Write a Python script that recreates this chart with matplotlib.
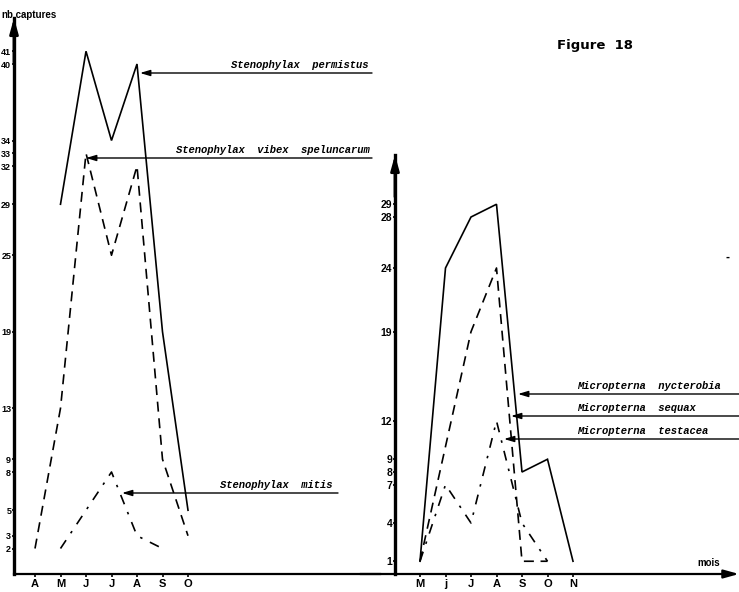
import matplotlib
matplotlib.use("Agg")
import matplotlib.pyplot as plt
from matplotlib import font_manager

# ---------------- data ----------------
left_months = ["A", "M", "J", "J", "A", "S", "O"]
permistus = [None, 29, 41, 34, 40, 19, 5]
vibex = [2, 13, 33, 25, 32, 9, 3]
mitis = [None, 2, 5, 8, 3, 2, None]
left_yticks = [2, 3, 5, 8, 9, 13, 19, 25, 29, 32, 33, 34, 40, 41]

right_months = ["M", "j", "J", "A", "S", "O", "N"]
nycterobia = [1, 24, 28, 29, 8, 9, 1]
sequax = [1, 10, 19, 24, 1, 1, None]
testacea = [1, 7, 4, 12, 4, 1, None]
right_yticks = [1, 4, 7, 8, 9, 12, 19, 24, 28, 29]

# ---------------- fonts ----------------
def pick(fams):
    for f in fams:
        try:
            font_manager.findfont(font_manager.FontProperties(family=f), fallback_to_default=False)
            return f
        except Exception:
            pass
    return "DejaVu Sans"

tickfont = pick(["Liberation Sans Narrow", "Liberation Sans", "DejaVu Sans"])
monofont = pick(["Liberation Mono", "DejaVu Sans Mono"])

W, H = 739, 592
fig = plt.figure(figsize=(W / 100, H / 100), dpi=100)

PXU = 12.75   # px per unit
Y0 = 574      # px of zero
STEP = 25.5   # px per month

def box(lpx, rpx, tpx):
    return [lpx / W, (H - Y0) / H, (rpx - lpx) / W, (Y0 - tpx) / H]

# ---------- left axes ----------
LAX = 14
axL = fig.add_axes(box(LAX, 380, 18))
x0L = 35
axL.set_xlim((LAX - x0L) / STEP, (380 - x0L) / STEP)
axL.set_ylim(0, (Y0 - 18) / PXU)

# ---------- right axes ----------
axR = fig.add_axes(box(395, 739, 155))
x0R = 420
axR.set_xlim((395 - x0R) / STEP, (739 - x0R) / STEP)
axR.set_ylim(0, (Y0 - 155) / PXU)

for ax in (axL, axR):
    ax.patch.set_alpha(0)
    for s in ("top", "right"):
        ax.spines[s].set_visible(False)
    ax.spines["left"].set_linewidth(2.4)
    ax.spines["bottom"].set_linewidth(1.6)
    ax.tick_params(axis="x", length=2.5, width=1.2, pad=1)
    ax.tick_params(axis="y", length=1.5, width=1.2, pad=0.5)

def series(ax, vals, **kw):
    xs = [i for i, v in enumerate(vals) if v is not None]
    ys = [v for v in vals if v is not None]
    ax.plot(xs, ys, color="black", lw=1.2, solid_joinstyle="miter", **kw)

series(axL, permistus)
series(axL, vibex, dashes=(6, 4))
series(axL, mitis, dashes=(6, 5, 1.5, 5))

series(axR, nycterobia)
series(axR, sequax, dashes=(6, 4))
series(axR, testacea, dashes=(6, 5, 1.5, 5))

axL.set_xticks(range(len(left_months)))
axL.set_xticklabels(left_months, fontfamily=tickfont, fontweight="bold", fontsize=8)
axL.set_yticks(left_yticks)
axL.set_yticklabels([str(v) for v in left_yticks], fontfamily=tickfont,
                    fontweight="bold", fontsize=6.5)

axR.set_xticks(range(len(right_months)))
axR.set_xticklabels(right_months, fontfamily=tickfont, fontweight="bold", fontsize=8)
axR.set_yticks(right_yticks)
axR.set_yticklabels([str(v) for v in right_yticks], fontfamily=tickfont,
                    fontweight="bold", fontsize=7.5)

axR.spines["bottom"].set_visible(False)

# y axis arrows
for ax, start in ((axL, 0.92), (axR, 0.9)):
    ax.annotate("", xy=(0, 1.0), xytext=(0, start), xycoords="axes fraction",
                arrowprops=dict(arrowstyle="-|>,head_length=0.9,head_width=0.25",
                                color="black", lw=2.0, shrinkA=0, shrinkB=0),
                annotation_clip=False)
# right x axis with arrow (extends left of the y axis)
axR.annotate("", xy=((739 - x0R) / STEP, 0), xytext=((360 - x0R) / STEP, 0),
             xycoords="data",
             arrowprops=dict(arrowstyle="-|>,head_length=0.9,head_width=0.25",
                             color="black", lw=1.6, shrinkA=0, shrinkB=0),
             annotation_clip=False)

# ---------- species labels with pointer lines ----------
txt_kw = dict(fontfamily=monofont, fontstyle="italic", fontweight="bold",
              fontsize=7.6, color="black")

def pointer(ax, x0, label, tip_px, end_px, y_px, text_px, ha="left"):
    y = (Y0 - y_px) / PXU
    ax.annotate("", xy=((tip_px - x0) / STEP, y), xytext=((end_px - x0) / STEP, y),
                arrowprops=dict(arrowstyle="-|>,head_length=0.6,head_width=0.18",
                                color="black", lw=1.0, shrinkA=0, shrinkB=0),
                annotation_clip=False)
    ax.text((text_px - x0) / STEP, (Y0 - y_px + 3) / PXU, label, ha=ha, va="bottom",
            clip_on=False, **txt_kw)

pointer(axL, x0L, "Stenophylax  permistus", 140, 372, 73, 368, ha="right")
pointer(axL, x0L, "Stenophylax  vibex  speluncarum", 86, 372, 158, 370, ha="right")
pointer(axL, x0L, "Stenophylax  mitis", 122, 338, 493, 332, ha="right")

pointer(axR, x0R, "Micropterna  nycterobia", 518, 739, 394, 577)
pointer(axR, x0R, "Micropterna  sequax", 511, 739, 416, 577)
pointer(axR, x0R, "Micropterna  testacea", 504, 739, 439, 577)

# ---------- other texts ----------
fig.text(1 / W, 1 - 15 / H, "nb.captures", fontsize=7, fontweight="bold",
         fontfamily=tickfont, va="center", ha="left")
fig.text(557 / W, 1 - 45 / H, "Figure  18", fontsize=9.5, fontweight="bold",
         va="center", ha="left")
fig.text(697 / W, 1 - 563 / H, "mois", fontsize=7, fontweight="bold",
         fontfamily=tickfont, va="center", ha="left")
fig.text(727 / W, 1 - 258 / H, "-", fontsize=7, fontweight="bold",
         va="center", ha="center")

fig.savefig("out.png", dpi=100)
